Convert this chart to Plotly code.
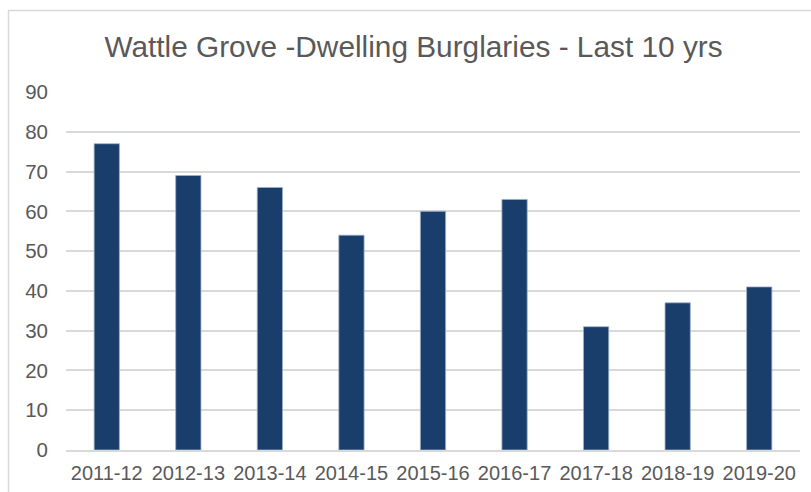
import plotly.graph_objects as go

categories = ["2011-12", "2012-13", "2013-14", "2014-15", "2015-16",
              "2016-17", "2017-18", "2018-19", "2019-20"]
burglaries = [77, 69, 66, 54, 60, 63, 31, 37, 41]
y_ticks = [0, 10, 20, 30, 40, 50, 60, 70, 80, 90]
title_text = "Wattle Grove -Dwelling Burglaries - Last 10 yrs"

W, H = 811, 492
L, R, T, B = 66, 11, 92, 42
pw, ph = W - L - R, H - T - B

def px_x(p):
    return (p - L) / pw

def px_y(p):
    return (H - B - p) / ph

fig = go.Figure(
    go.Bar(
        x=categories,
        y=burglaries,
        marker=dict(color="#193e6b", line=dict(color="#9fb1c8", width=0.8)),
    )
)

fig.update_layout(
    width=W,
    height=H,
    margin=dict(l=L, r=R, t=T, b=B),
    paper_bgcolor="white",
    plot_bgcolor="white",
    bargap=0.69,
    showlegend=False,
    font=dict(family="Liberation Sans, Arial, sans-serif", color="#595959"),
    title=dict(
        text=title_text,
        x=413.5 / W,
        xref="container",
        xanchor="center",
        y=1 - 47 / H,
        yref="container",
        yanchor="middle",
        font=dict(size=29.8, color="#595959"),
    ),
    xaxis=dict(
        type="category",
        automargin=False,
        showgrid=False,
        showline=True,
        linecolor="#d9d9d9",
        linewidth=1.5,
        ticks="",
        tickfont=dict(size=20, color="#595959"),
        ticklabelstandoff=4,
    ),
    yaxis=dict(
        automargin=False,
        range=[0, 90],
        tickvals=y_ticks,
        showgrid=True,
        gridcolor="#d9d9d9",
        gridwidth=1.5,
        zeroline=False,
        showline=False,
        ticks="",
        tickfont=dict(size=20.5, color="#595959"),
        ticklabelstandoff=17,
    ),
    shapes=[
        dict(
            type="rect",
            xref="paper",
            yref="paper",
            x0=px_x(8.5),
            x1=px_x(840),
            y0=px_y(520),
            y1=px_y(10.5),
            line=dict(color="#d9d9d9", width=1.5),
            fillcolor="rgba(0,0,0,0)",
            layer="below",
        )
    ],
)

fig.write_html("out.html")
